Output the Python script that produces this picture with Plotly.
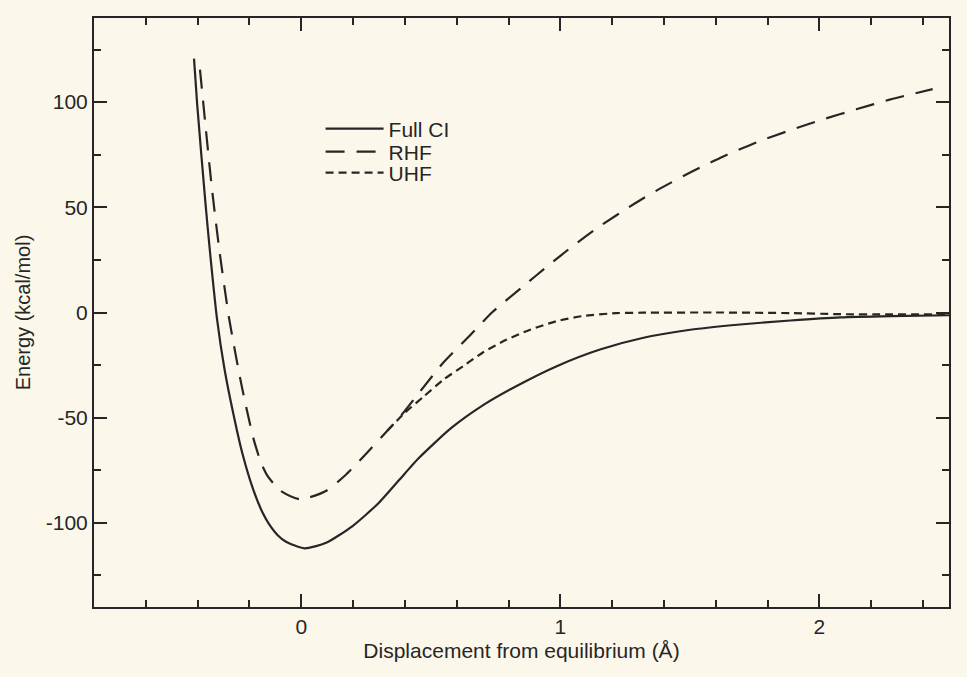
import plotly.graph_objects as go

# Potential energy curves for H2 dissociation (kcal/mol vs displacement in Å)
full_ci_x = [-0.414, -0.402, -0.370, -0.352, -0.325, -0.296, -0.263, -0.228, -0.186,
             -0.150, -0.125, -0.090, -0.059, 0.012, 0.096, 0.198, 0.300, 0.400, 0.451,
             0.578, 0.705, 0.833, 0.986, 1.153, 1.321, 1.501, 1.694, 1.888, 2.081,
             2.275, 2.500]
full_ci_y = [120.7, 99.3, 52.2, 28.4, -3.3, -27.1, -47.7, -66.7, -84.0,
             -95.0, -100.5, -106.0, -109.0, -112.1, -109.5, -101.5, -90.4, -76.5, -69.5,
             -55.0, -43.8, -34.8, -25.5, -17.6, -12.0, -8.2, -5.7, -3.8, -2.3,
             -1.7, -1.3]

rhf_x = [-0.391, -0.346, -0.315, -0.278, -0.230, -0.184, -0.155, -0.131, -0.083,
         -0.004, 0.093, 0.169, 0.244, 0.333, 0.385, 0.459, 0.547, 0.649, 0.737,
         0.852, 0.953, 1.050, 1.150, 1.284, 1.386, 1.514, 1.629, 1.757, 1.886,
         2.014, 2.142, 2.271, 2.437]
rhf_y = [115.5, 60.2, 28.5, -3.2, -34.9, -60.2, -71.5, -77.5, -84.5,
         -88.8, -85.0, -77.5, -68.0, -56.1, -49.0, -37.5, -24.0, -11.2, 0.1,
         12.0, 22.3, 31.8, 40.8, 51.6, 59.0, 67.4, 74.2, 80.9, 86.6,
         91.8, 96.6, 101.2, 106.2]

uhf_x = [0.333, 0.396, 0.472, 0.548, 0.625, 0.701, 0.791, 0.881, 0.983, 1.086,
         1.215, 1.318, 1.628, 1.887, 2.081, 2.275, 2.500]
uhf_y = [-56.1, -48.1, -40.0, -32.0, -25.5, -19.0, -13.0, -8.3, -4.2, -1.7,
         -0.3, -0.1, 0.0, -0.3, -0.8, -0.9, -0.8]

# Axis tick labels (plain hyphen for negatives)
x_tickvals = [0, 1, 2]
x_ticktext = ["0", "1", "2"]
y_tickvals = [-100, -50, 0, 50, 100]
y_ticktext = ["-100", "-50", "0", "50", "100"]

INK = "#262626"
PAPER = "#fbf8eb"
FONT = "Liberation Sans, Arial, Helvetica, sans-serif"

fig = go.Figure()
fig.add_trace(go.Scatter(x=full_ci_x, y=full_ci_y, mode="lines", name="Full CI",
                         legend="legend",
                         line=dict(color=INK, width=2.2, shape="spline", smoothing=0.6)))
fig.add_trace(go.Scatter(x=rhf_x, y=rhf_y, mode="lines", name="RHF",
                         legend="legend2",
                         line=dict(color=INK, width=2.2, dash="19px,12px",
                                   shape="spline", smoothing=0.6)))
fig.add_trace(go.Scatter(x=uhf_x, y=uhf_y, mode="lines", name="UHF",
                         legend="legend3",
                         line=dict(color=INK, width=2.2, dash="8px,5px",
                                   shape="spline", smoothing=0.6)))

axis_common = dict(
    ticks="inside", tickwidth=2, tickcolor=INK, ticklen=13,
    showline=True, linewidth=2, linecolor=INK, mirror="ticks",
    showgrid=False, zeroline=False,
    tickfont=dict(family=FONT, size=21, color=INK),
)

legend_common = dict(x=0.265, xanchor="left", yanchor="middle",
                     bgcolor="rgba(0,0,0,0)", borderwidth=0,
                     font=dict(family=FONT, size=21, color=INK), itemwidth=58)

fig.update_layout(
    width=967, height=677,
    margin=dict(l=94, r=18, t=18, b=70),
    paper_bgcolor=PAPER, plot_bgcolor=PAPER,
    font=dict(family=FONT, size=21, color=INK),
    xaxis=dict(
        range=[-0.8, 2.5], tickmode="array", tickvals=x_tickvals, ticktext=x_ticktext,
        minor=dict(tick0=0, dtick=0.2, ticks="inside", ticklen=7, tickwidth=2,
                   tickcolor=INK, showgrid=False),
        title=dict(text="Displacement from equilibrium (Å)",
                   font=dict(family=FONT, size=21, color=INK), standoff=6),
        **axis_common,
    ),
    yaxis=dict(
        range=[-140, 140], tickmode="array", tickvals=y_tickvals, ticktext=y_ticktext,
        minor=dict(tick0=0, dtick=25, ticks="inside", ticklen=7, tickwidth=2,
                   tickcolor=INK, showgrid=False),
        title=dict(text="Energy (kcal/mol)",
                   font=dict(family=FONT, size=20, color=INK), standoff=10),
        **axis_common,
    ),
    legend=dict(y=0.8115, **legend_common),
    legend2=dict(y=0.7725, **legend_common),
    legend3=dict(y=0.7368, **legend_common),
    showlegend=True,
)

fig.write_html("out.html")
